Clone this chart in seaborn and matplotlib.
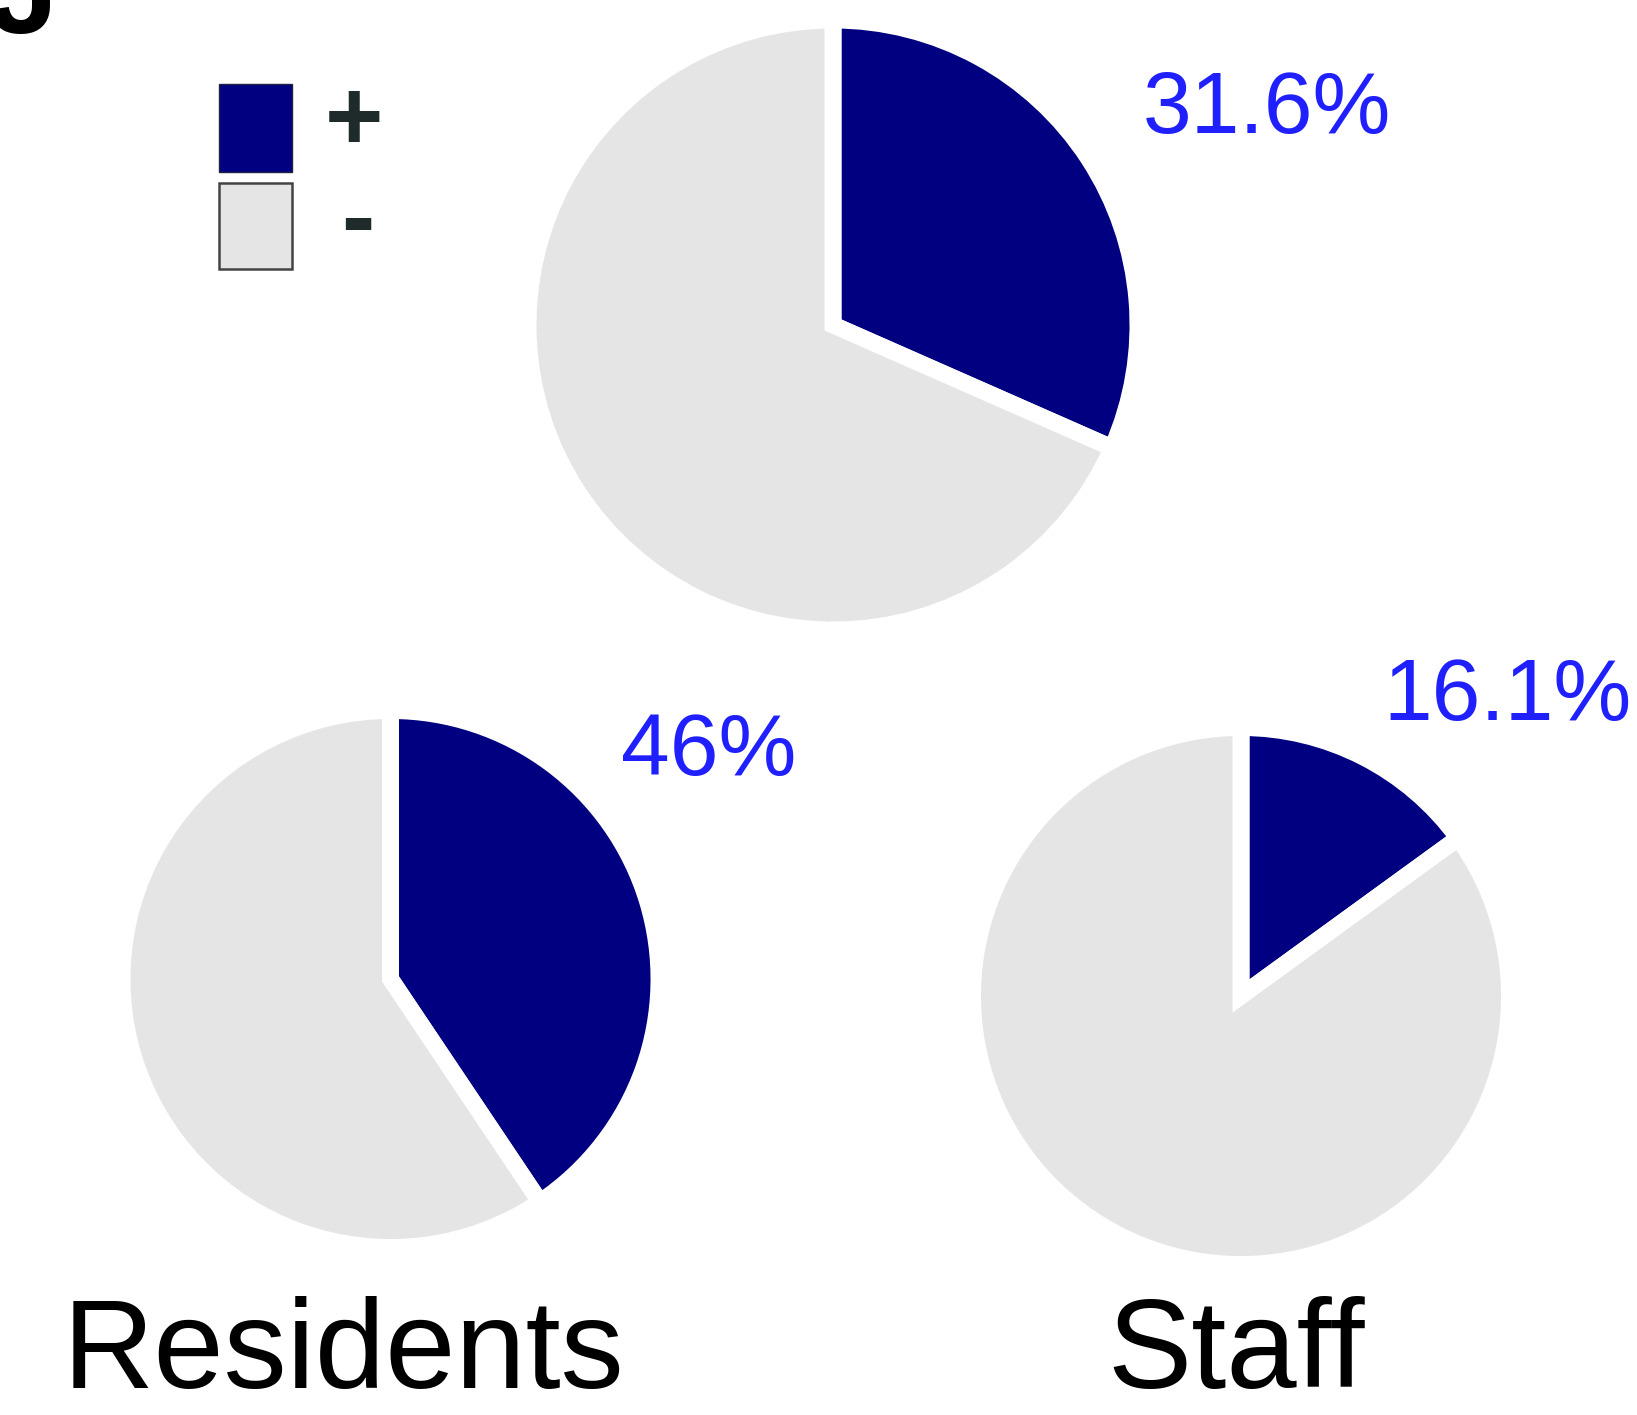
import matplotlib
matplotlib.use("Agg")
import matplotlib.pyplot as plt
from matplotlib.patches import Rectangle
import seaborn as sns

# 값
groups = ["", "Residents", "Staff"]
positive_pct = [31.6, 40.6, 15.0]
pct_labels = ["31.6%", "46%", "16.1%"]
legend_labels = ["+", "-"]

sns.set_theme(style="white")
plt.rcParams["font.family"] = ["Liberation Sans", "DejaVu Sans"]

palette = sns.color_palette(["#000080", "#e5e5e5"])
label_blue = "#2020ff"
dark = "#1f2a2a"

W, H = 1637, 1415
fig = plt.figure(figsize=(W / 100, H / 100), dpi=100)

def px(x, y):
    return x / W, 1 - y / H

# pie 위치 (center x, center y, radius) in px
pie_boxes = [(833, 325, 305), (390.5, 979, 268.5), (1241, 996, 268.5)]
label_pos = [(1143, 133), (621, 775), (1383, 720)]
name_pos = [(0, 0), (63, 1388), (1107, 1388)]

for i, (cx, cy, r) in enumerate(pie_boxes):
    ax = fig.add_axes([(cx - r) / W, (H - cy - r) / H, 2 * r / W, 2 * r / H])
    p = positive_pct[i]
    ax.pie([p, 100 - p], colors=palette, startangle=90, counterclock=False,
           radius=1, wedgeprops=dict(edgecolor="white", linewidth=12.2))
    ax.set_xlim(-1, 1)
    ax.set_ylim(-1, 1)
    ax.set_aspect("equal")
    ax.axis("off")

    lx, ly = label_pos[i]
    fig.text(*px(lx, ly), pct_labels[i], color=label_blue, fontsize=63,
             ha="left", va="baseline")
    if groups[i]:
        nx, ny = name_pos[i]
        fig.text(*px(nx, ny), groups[i], color="black", fontsize=91,
                 ha="left", va="baseline")

# 범례
fig.add_artist(Rectangle(px(219, 172), 73 / W, 88 / H, transform=fig.transFigure,
                         facecolor=palette[0], edgecolor="#222244", linewidth=1))
fig.add_artist(Rectangle(px(219, 269), 73 / W, 86 / H, transform=fig.transFigure,
                         facecolor=palette[1], edgecolor="#444444", linewidth=1.8))
fig.text(*px(354, 150), legend_labels[0], color=dark, fontsize=72,
         fontweight="bold", ha="center", va="baseline")
fig.text(*px(358, 250), legend_labels[1], color=dark, fontsize=72,
         fontweight="bold", ha="center", va="baseline")

# 잘린 패널 글자 (원본에서도 위쪽이 잘려 있음)
fig.text(*px(-12, 33), "J", color="black", fontsize=90, fontweight="bold",
         ha="left", va="baseline")

fig.savefig("out.png", dpi=100)
